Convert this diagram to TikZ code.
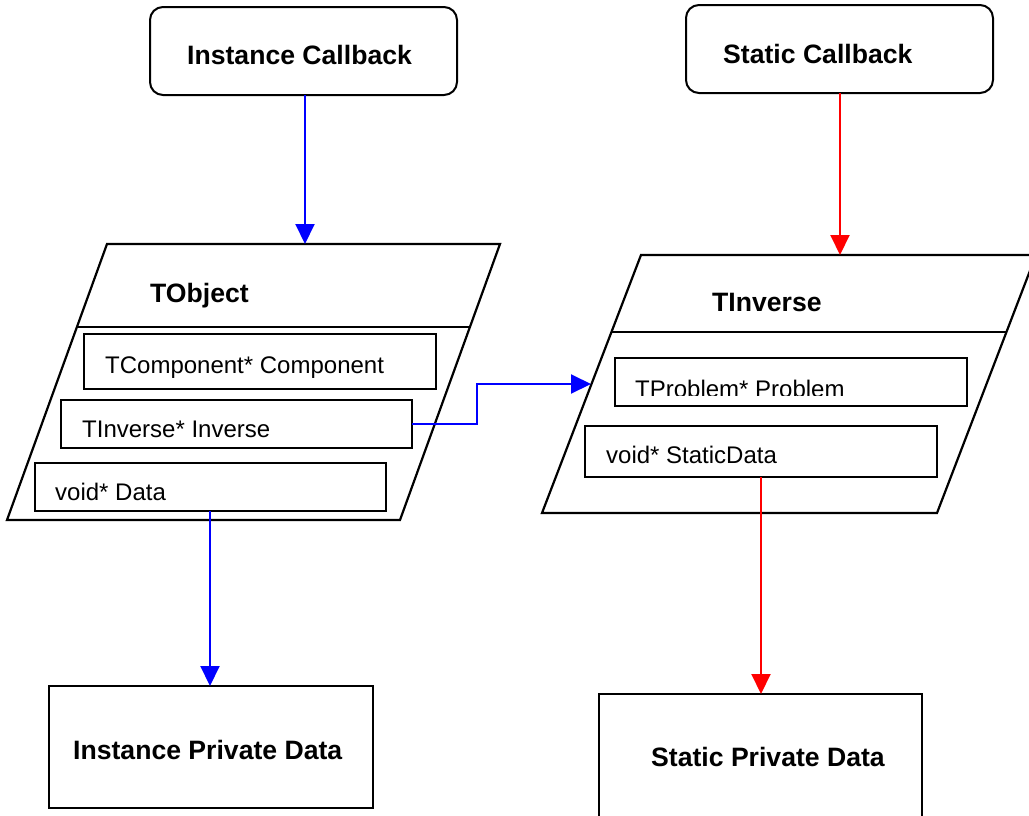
\documentclass[tikz,border=0pt]{standalone}
\usepackage{fontspec}
\setmainfont{Liberation Sans}
\usetikzlibrary{arrows.meta}
\tikzset{
  box/.style={draw, line width=2pt, inner sep=0pt, outer sep=0pt},
  rbox/.style={box, rounded corners=13pt},
  field/.style={draw, line width=1.5pt, inner sep=0pt, outer sep=0pt},
  outline/.style={draw, line width=2.2pt, line join=miter},
  divider/.style={draw, line width=1.5pt},
  title/.style={anchor=base west, inner sep=0pt, font=\fontsize{26.6}{30}\selectfont\bfseries},
  label/.style={anchor=base west, inner sep=0pt, font=\fontsize{24}{28}\selectfont},
  bluearrow/.style={draw=blue, line width=2pt, -{Triangle[length=20pt,width=19pt]}},
  redarrow/.style={draw=red, line width=2pt, -{Triangle[length=20pt,width=19pt]}},
}
\begin{document}
\begin{tikzpicture}[x=1pt,y=-1pt]
\useasboundingbox (0,0) rectangle (1029,815);
\fill[white] (0,0) rectangle (1029,815);

% callback boxes
\node[rbox, minimum width=307pt, minimum height=88pt] (ic) at (303.5,51) {};
\node[title] (ictext) at (187,64) {Instance Callback};
\node[rbox, minimum width=307pt, minimum height=88pt] (sc) at (839.5,49) {};
\node[title] (sctext) at (723,63) {Static Callback};

% TObject parallelogram
\path[outline] (107,244) -- (500,244) -- (400,520) -- (7,520) -- cycle;
\path[divider] (77,327) -- (470,327);
\coordinate (tobjtop) at (305,244);
\node[title] (tobj) at (150,302) {TObject};
\node[field, minimum width=352pt, minimum height=55pt] (comp) at (260,361.5) {};
\node[label] (comptext) at (105,373) {TComponent* Component};
\node[field, minimum width=351pt, minimum height=48pt] (inv) at (236.5,424) {};
\node[label] (invtext) at (82,437) {TInverse* Inverse};
\node[field, minimum width=351pt, minimum height=48pt] (data) at (210.5,487) {};
\node[label] (datatext) at (55,500) {void* Data};
\coordinate (datafoot) at (210,511);

% TInverse parallelogram
\path[outline] (641,255) -- (1036,255) -- (937,513) -- (542,513) -- cycle;
\path[divider] (611,332) -- (1006,332);
\coordinate (tinvtop) at (840,255);
\coordinate (tinvleft) at (591,384);
\node[title] (tinv) at (712,311) {TInverse};
\node[field, minimum width=352pt, minimum height=48pt] (prob) at (791,382) {};
\begin{scope}
\clip (600,350) rectangle (980,395.5);
\node[label] (probtext) at (635,397) {TProblem* Problem};
\end{scope}
\node[field, minimum width=352pt, minimum height=51pt] (sdata) at (761,451.5) {};
\node[label] (sdatatext) at (606,463) {void* StaticData};

% private data boxes
\node[box, minimum width=324pt, minimum height=122pt] (ipd) at (211,747) {};
\node[title] (ipdtext) at (73,759) {Instance Private Data};
\node[box, minimum width=323pt, minimum height=136pt] (spd) at (760.5,762) {};
\node[title] (spdtext) at (651,766) {Static Private Data};

% connectors
\path[bluearrow] (ic.south -| tobjtop) -- (tobjtop);
\path[redarrow] (sc.south -| tinvtop) -- (tinvtop);
\path[bluearrow] (inv.east) -- ++(65,0) |- (tinvleft);
\path[bluearrow] (datafoot) -- (datafoot |- ipd.north);
\path[redarrow] (sdata.south) -- (sdata.south |- spd.north);
\end{tikzpicture}
\end{document}
